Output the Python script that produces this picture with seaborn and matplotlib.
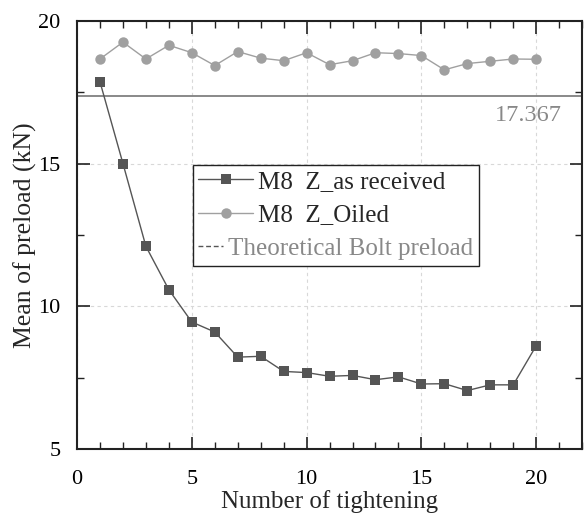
import matplotlib
matplotlib.use("Agg")
import matplotlib.pyplot as plt
from matplotlib.lines import Line2D
from matplotlib.ticker import MultipleLocator
import seaborn as sns
import pandas as pd
import numpy as np

tightening = list(range(1, 21))
as_received = [17.86, 15.0, 12.10, 10.58, 9.45, 9.10, 8.22, 8.25, 7.72, 7.68,
               7.55, 7.58, 7.43, 7.53, 7.28, 7.29, 7.05, 7.25, 7.25, 8.62]
oiled = [18.66, 19.25, 18.66, 19.14, 18.88, 18.43, 18.92, 18.69, 18.60, 18.88,
         18.46, 18.60, 18.88, 18.85, 18.78, 18.28, 18.50, 18.58, 18.66, 18.65]
theoretical = 17.367
labels = ["M8  Z_as received", "M8  Z_Oiled", "Theoretical Bolt preload"]

sns.set_theme(style="ticks")
plt.rcParams['font.family'] = ['Liberation Serif', 'DejaVu Serif']

df = pd.DataFrame({"n": tightening, "recv": as_received, "oil": oiled})

fig = plt.figure(figsize=(5.88, 5.18), dpi=100)
ax = fig.add_axes([0.131, 0.133, 0.859, 0.827])

c_recv = "#555555"
c_oil = "#a0a0a0"
c_theo = "#808080"

ax.axhline(theoretical, color=c_theo, lw=1.3, zorder=1)
sns.lineplot(data=df, x="n", y="oil", ax=ax, color=c_oil, lw=1.0, marker="o",
             markersize=7.5, markeredgewidth=0, markerfacecolor=c_oil, zorder=3)
sns.lineplot(data=df, x="n", y="recv", ax=ax, color=c_recv, lw=1.0, marker="s",
             markersize=6.5, markeredgewidth=0, markerfacecolor=c_recv, zorder=4)

ax.text(21.13, theoretical - 0.32, f"{theoretical:.3f}", ha="right", va="top",
        fontsize=17.5, color="#888888")

ax.set_xlim(0, 22)
ax.set_ylim(5, 20)
ax.xaxis.set_major_locator(MultipleLocator(5))
ax.xaxis.set_minor_locator(MultipleLocator(1))
ax.yaxis.set_major_locator(MultipleLocator(5))
ax.yaxis.set_minor_locator(MultipleLocator(2.5))
ax.tick_params(which="both", direction="in", top=True, right=True,
               colors="#222222", labelsize=16, labelcolor="black")
ax.tick_params(which="major", length=9, width=1.2)
ax.tick_params(which="minor", length=5, width=1.0)
ax.tick_params(axis="x", pad=15)
ax.tick_params(axis="y", pad=12)
for s in ax.spines.values():
    s.set_linewidth(1.5)
    s.set_color("#222222")
ax.grid(True, which="major", ls=(0, (3, 3)), color="#d8d8d8", lw=0.8)
ax.set_axisbelow(True)

ax.set_xlabel("Number of tightening", fontsize=18, labelpad=1)
ax.set_ylabel("Mean of preload (kN)", fontsize=18.5, labelpad=1)

handles = [
    Line2D([], [], color=c_recv, lw=1.0, marker="s", markersize=6.5, markeredgewidth=0),
    Line2D([], [], color=c_oil, lw=1.0, marker="o", markersize=7.5, markeredgewidth=0),
    Line2D([], [], color="#555555", lw=1.0, ls=(0, (3.5, 2))),
]
leg = ax.legend(handles, labels, loc="upper left", bbox_to_anchor=(0.229, 0.664),
                fontsize=18, frameon=True, fancybox=False, framealpha=1,
                edgecolor="#222222", borderpad=0.22, handlelength=2.2,
                handletextpad=0.2, labelspacing=0.45, borderaxespad=0)
leg.get_frame().set_linewidth(1.0)
leg.get_texts()[2].set_color("#888888")

# shorten the dashed handle of the third entry so its label starts further left
try:
    rows = leg._legend_handle_box.get_children()[0].get_children()
    da = rows[2].get_children()[0]
    da.width = 18
    hl = leg.legend_handles[2]
    y0 = np.asarray(hl.get_ydata(), dtype=float)[0]
    hl.set_data(np.array([0.0, 18.0]), np.array([y0, y0]))
except Exception:
    pass

fig.savefig("out.png", dpi=100)
